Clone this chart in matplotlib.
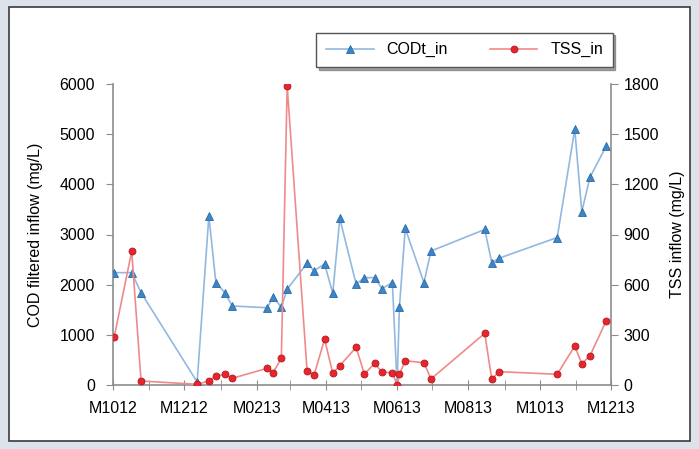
import pandas as pd
import numpy as np
import matplotlib
matplotlib.use("Agg")
import matplotlib.pyplot as plt
import matplotlib.dates as mdates
from matplotlib.patches import Rectangle

# ==========================================
# INFLOW MEASUREMENTS
# ==========================================

sample_dates = [
    "2012-10-02", "2012-10-17", "2012-10-25", "2012-12-12", "2012-12-22",
    "2012-12-28", "2013-01-05", "2013-01-11", "2013-02-10", "2013-02-15",
    "2013-02-22", "2013-02-27", "2013-03-16", "2013-03-22", "2013-03-31",
    "2013-04-07", "2013-04-13", "2013-04-27", "2013-05-04", "2013-05-13",
    "2013-05-19", "2013-05-28", "2013-06-01", "2013-06-03", "2013-06-08",
    "2013-06-24", "2013-06-30", "2013-08-15", "2013-08-21", "2013-08-27",
    "2013-10-16", "2013-10-31", "2013-11-06", "2013-11-13", "2013-11-27",
]

cod_in = [
    2240, 2240, 1840, 60, 3370,
    2040, 1830, 1575, 1540, 1760,
    1550, 1910, 2425, 2280, 2410,
    1830, 3320, 2010, 2140, 2140,
    1920, 2040, 0, 1550, 3120,
    2040, 2670, 3100, 2440, 2525,
    2940, 5100, 3455, 4140, 4765,
]

tss_in = [
    285, 800, 24, 4, 24,
    54, 64, 40, 100, 74,
    160, 1790, 86, 60, 273,
    70, 116, 225, 66, 130,
    76, 74, 0, 64, 145,
    133, 36, 309, 34, 80,
    64, 233, 126, 175, 385,
]

dates = pd.to_datetime(sample_dates)

# ==========================================
# FIGURE SETUP
# ==========================================

plt.rcParams["font.family"] = ["Liberation Sans", "DejaVu Sans"]
plt.rcParams["font.size"] = 11.5

fig = plt.figure(figsize=(6.99, 4.49), dpi=100)
fig.patch.set_facecolor("#dce3ea")

# white panel with dark border, behind the axes
panel = Rectangle((9 / 699, 1 - 441 / 449), 681 / 699, 434 / 449,
                  transform=fig.transFigure, facecolor="white",
                  edgecolor="#3a3a3a", linewidth=1.2, zorder=-10)
fig.patches.append(panel)

ax = fig.add_axes([113 / 699, 1 - 385 / 449, 498 / 699, 301 / 449])
ax.patch.set_alpha(0)
ax2 = ax.twinx()
ax2.patch.set_alpha(0)

# ==========================================
# SERIES
# ==========================================

l1, = ax.plot(dates, cod_in, color="#93b8e0", linewidth=1.2,
              marker="^", markersize=5.5, markerfacecolor="#3c85c8",
              markeredgecolor="#2a6aa5", markeredgewidth=0.6,
              label="CODt_in", zorder=3)
l2, = ax2.plot(dates, tss_in, color="#f08a8a", linewidth=1.2,
               marker="o", markersize=5, markerfacecolor="#e8242c",
               markeredgecolor="#b01a20", markeredgewidth=0.6,
               label="TSS_in", zorder=3)

# ==========================================
# AXES
# ==========================================

ax.set_xlim(pd.Timestamp("2012-10-01"), pd.Timestamp("2013-12-01"))
ax.set_ylim(0, 6000)
ax2.set_ylim(0, 1800)
ax.set_yticks(np.arange(0, 6001, 1000))
ax2.set_yticks(np.arange(0, 1801, 300))

ax.xaxis.set_major_locator(mdates.MonthLocator(bymonth=[2, 4, 6, 8, 10, 12]))
ax.xaxis.set_minor_locator(mdates.MonthLocator())
ax.xaxis.set_major_formatter(mdates.DateFormatter("M%m%y"))

ax.set_ylabel("COD filtered inflow (mg/L)", labelpad=12)
ax2.set_ylabel("TSS inflow (mg/L)", labelpad=8)

for a in (ax, ax2):
    a.spines["top"].set_visible(False)
    for s in ("left", "right", "bottom"):
        a.spines[s].set_color("#8c8c8c")
        a.spines[s].set_linewidth(1.2)

ax.spines["right"].set_visible(False)
ax2.spines["left"].set_visible(False)
ax2.spines["bottom"].set_visible(False)

ax.tick_params(axis="y", direction="out", length=5, color="#8c8c8c", pad=8)
ax2.tick_params(axis="y", direction="out", length=5, color="#8c8c8c", pad=4)
ax.tick_params(axis="x", which="both", direction="inout", length=7,
               color="#8c8c8c", pad=8)

# ==========================================
# LEGEND
# ==========================================

leg = fig.legend([l1, l2], ["CODt_in", "TSS_in"], loc="center", ncol=2,
                 bbox_to_anchor=(0.6645, 0.889), bbox_transform=fig.transFigure,
                 frameon=True, fancybox=False, shadow=True,
                 edgecolor="#555555", handlelength=3.0, columnspacing=2.6,
                 borderpad=0.6, fontsize=11.5)
leg.get_frame().set_linewidth(1.0)

fig.savefig("out.png", dpi=100, facecolor=fig.get_facecolor())
